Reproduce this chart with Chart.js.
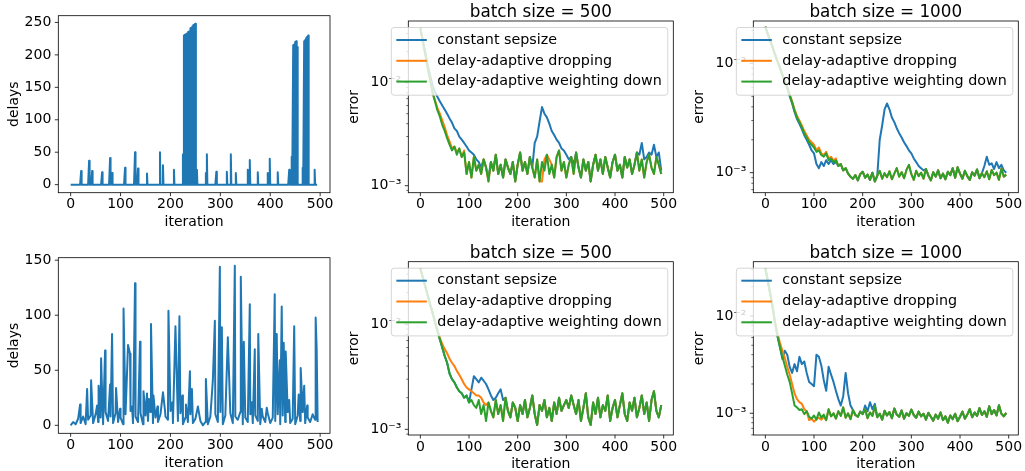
<!DOCTYPE html>
<html>
<head>
<meta charset="utf-8">
<title>delays and error</title>
<script src="https://cdn.jsdelivr.net/npm/chart.js@4.4.1/dist/chart.umd.min.js"></script>
<style>
html,body{margin:0;padding:0;background:#fff;}
#fig{position:relative;width:1025px;height:471px;overflow:hidden;background:#fff;}
#fig canvas{position:absolute;left:0;top:0;}
</style>
</head>
<body>
<div id="fig"></div>
<script>
// ---------------- data ----------------
const iterations = [0,5,10,15,20,25,30,35,40,45,50,55,60,65,70,75,80,85,90,95,100,105,110,115,120,125,130,135,140,145,150,155,160,165,170,175,180,185,190,195,200,205,210,215,220,225,230,235,240,245,250,255,260,265,270,275,280,285,290,295,300,305,310,315,320,325,330,335,340,345,350,355,360,365,370,375,380,385,390,395,400,405,410,415,420,425,430,435,440,445,450,455,460,465,470,475,480,485,490,495];
const xTickValues = [0,100,200,300,400,500];
const delayTicksTop = [0,50,100,150,200,250];
const delayTicksBottom = [0,50,100,150];
const errorTickValues = [1e-3,1e-2];
const legendLabels = ['constant sepsize','delay-adaptive dropping','delay-adaptive weighting down'];
const panelTitles = ['batch size = 500','batch size = 1000'];
const lastIteration = 495;

// top-left: delays are 0 except at these iterations
const spikeIterTop = [21,37,43,63,79,83,109,129,135,153,179,185,207,225,227,229,231,233,235,237,240,242,244,246,248,250,253,271,273,292,313,321,331,355,359,375,395,399,415,438,443,446,448,450,452,454,465,468,470,472,474,476,489];
const spikeDelayTop = [21,37,21,19,41,18,26,50,25,17,50,30,23,47,230,231,232,233,235,236,241,242,244,246,247,248,23,18,47,20,20,47,18,23,38,19,18,40,19,23,43,215,216,220,221,212,26,221,223,226,228,230,23];

// bottom-left: background delays (at `iterations`) plus spikes
const baseDelayBottom = [0,3,1,6,2,8,1,5,9,2, 10,3,7,1,12,4,8,2,11,3, 7,1,10,4,13,2,8,3,11,1, 9,4,12,2,7,3,10,1,8,5, 13,2,9,4,11,1,7,3,10,2, 6,1,4,0,3,1,8,2,10,3, 12,1,9,4,11,2,8,5,12,1, 7,3,10,2,9,4,1,8,3,11, 2,7,4,10,1,9,3,12,2,6, 1,9,4,12,2,7,3,10,5,3];
const spikeIterBottom = [19,33,41,53,56,61,69,79,83,91,99,106,115,119,123,129,139,146,153,157,161,166,174,185,189,196,204,210,218,224,231,239,243,255,271,285,289,299,303,315,329,341,347,359,363,369,376,383,393,409,413,419,423,427,431,438,448,457,461,468,474,491,493];
const spikeDelayBottom = [19,33,41,18,36,61,68,37,83,34,15,106,73,65,17,129,76,31,29,24,92,27,17,30,14,104,21,90,99,27,19,49,33,17,42,41,95,144,89,80,145,135,76,110,21,69,83,15,16,119,83,59,108,75,67,23,90,28,52,36,18,98,70];

// top row, batch 500
const errTop500Const = [3.4e-2,2.6e-2,2.0e-2,1.5e-2,1.18e-2,9.5e-3,8.2e-3,7.3e-3,6.6e-3,6.0e-3,
 5.5e-3,5.0e-3,4.5e-3,4.1e-3,3.6e-3,3.4e-3,3.0e-3,2.8e-3,2.6e-3,2.4e-3,
 2.2e-3,2.1e-3,2.0e-3,1.8e-3,1.7e-3,1.5e-3,1.8e-3,1.5e-3,1.2e-3,1.7e-3,
 1.4e-3,2.0e-3,1.3e-3,1.6e-3,1.2e-3,1.8e-3,1.5e-3,1.3e-3,1.7e-3,1.1e-3,
 1.6e-3,2.1e-3,1.4e-3,1.7e-3,1.3e-3,1.9e-3,1.5e-3,2.6e-3,3.0e-3,4.2e-3,
 5.8e-3,5.0e-3,4.6e-3,4.0e-3,3.4e-3,3.1e-3,2.8e-3,2.6e-3,2.3e-3,2.2e-3,
 2.0e-3,1.8e-3,1.9e-3,1.6e-3,2.1e-3,1.5e-3,1.2e-3,1.8e-3,1.4e-3,1.7e-3,
 1.1e-3,1.6e-3,2.0e-3,1.4e-3,1.8e-3,1.3e-3,1.9e-3,1.5e-3,1.2e-3,1.7e-3,
 2.0e-3,1.4e-3,1.6e-3,1.2e-3,1.9e-3,1.5e-3,1.8e-3,1.3e-3,1.6e-3,2.1e-3,
 2.0e-3,2.6e-3,1.8e-3,1.9e-3,2.1e-3,2.0e-3,2.5e-3,1.9e-3,2.1e-3,1.4e-3];
const errTop500Drop = [3.4e-2,2.5e-2,1.9e-2,1.4e-2,1.07e-2,8.1e-3,6.8e-3,5.7e-3,5.0e-3,4.3e-3,
 3.7e-3,3.1e-3,2.7e-3,2.3e-3,2.4e-3,2.1e-3,2.3e-3,1.9e-3,2.2e-3,1.3e-3,
 1.7e-3,1.2e-3,1.9e-3,1.4e-3,1.6e-3,1.3e-3,1.8e-3,1.5e-3,1.1e-3,1.7e-3,
 1.4e-3,2.0e-3,1.3e-3,1.6e-3,1.2e-3,1.8e-3,1.5e-3,1.3e-3,1.7e-3,1.1e-3,
 1.6e-3,2.1e-3,1.4e-3,1.7e-3,1.3e-3,1.9e-3,1.5e-3,1.2e-3,1.8e-3,1.1e-3,
 1.1e-3,1.8e-3,2.0e-3,1.8e-3,1.6e-3,1.2e-3,1.9e-3,2.2e-3,1.4e-3,1.7e-3,
 1.2e-3,1.6e-3,1.9e-3,1.3e-3,2.1e-3,1.5e-3,1.2e-3,1.8e-3,1.4e-3,1.7e-3,
 1.1e-3,1.6e-3,2.0e-3,1.4e-3,1.8e-3,1.3e-3,1.9e-3,1.5e-3,1.2e-3,1.7e-3,
 2.0e-3,1.4e-3,1.6e-3,1.2e-3,1.9e-3,1.5e-3,1.8e-3,1.3e-3,1.6e-3,2.1e-3,
 1.4e-3,1.8e-3,1.2e-3,1.7e-3,2.0e-3,1.5e-3,1.3e-3,1.9e-3,1.6e-3,1.3e-3];
const errTop500Weight = [3.4e-2,2.5e-2,1.9e-2,1.4e-2,1.07e-2,8.0e-3,6.6e-3,5.4e-3,4.7e-3,3.9e-3,
 3.4e-3,2.9e-3,2.5e-3,2.2e-3,2.4e-3,2.0e-3,2.3e-3,1.9e-3,2.1e-3,1.3e-3,
 1.7e-3,1.2e-3,1.9e-3,1.4e-3,1.6e-3,1.3e-3,1.8e-3,1.5e-3,1.1e-3,1.7e-3,
 1.4e-3,2.0e-3,1.3e-3,1.6e-3,1.2e-3,1.8e-3,1.5e-3,1.3e-3,1.7e-3,1.1e-3,
 1.6e-3,2.1e-3,1.4e-3,1.7e-3,1.3e-3,1.9e-3,1.5e-3,1.2e-3,1.8e-3,1.1e-3,
 1.7e-3,1.4e-3,2.0e-3,1.3e-3,1.6e-3,1.2e-3,1.9e-3,2.2e-3,1.4e-3,1.7e-3,
 1.2e-3,1.6e-3,1.9e-3,1.3e-3,2.1e-3,1.5e-3,1.2e-3,1.8e-3,1.4e-3,1.7e-3,
 1.1e-3,1.6e-3,2.0e-3,1.4e-3,1.8e-3,1.3e-3,1.9e-3,1.5e-3,1.2e-3,1.7e-3,
 2.0e-3,1.4e-3,1.6e-3,1.2e-3,1.9e-3,1.5e-3,1.8e-3,1.3e-3,1.6e-3,2.1e-3,
 1.4e-3,1.8e-3,1.2e-3,1.7e-3,2.0e-3,1.5e-3,1.3e-3,1.9e-3,1.6e-3,1.3e-3];

// top row, batch 1000
const errTop1000Const = [2.16e-2,1.86e-2,1.61e-2,1.40e-2,1.20e-2,1.04e-2,9.1e-3,7.9e-3,6.8e-3,6.0e-3,
 5.0e-3,4.3e-3,3.6e-3,3.1e-3,2.8e-3,2.5e-3,2.2e-3,2.0e-3,1.8e-3,1.6e-3,
 1.5e-3,1.2e-3,1.1e-3,1.25e-3,1.15e-3,1.3e-3,1.2e-3,1.3e-3,1.2e-3,1.25e-3,
 1.15e-3,1.2e-3,1.05e-3,1.1e-3,9.8e-4,9.2e-4,8.8e-4,9.5e-4,8.5e-4,9.7e-4,
 1.02e-3,9.0e-4,9.6e-4,8.6e-4,1.00e-3,8.3e-4,9.4e-4,2.0e-3,2.7e-3,3.8e-3,
 4.3e-3,3.8e-3,3.2e-3,2.9e-3,2.55e-3,2.3e-3,2.1e-3,1.9e-3,1.75e-3,1.6e-3,
 1.5e-3,1.35e-3,1.25e-3,1.15e-3,1.1e-3,1.05e-3,1.08e-3,9.4e-4,8.5e-4,1.01e-3,
 9.2e-4,1.05e-3,8.9e-4,9.8e-4,8.7e-4,1.02e-3,9.5e-4,1.10e-3,9.0e-4,1.12e-3,
 9.8e-4,8.8e-4,1.04e-3,9.3e-4,8.6e-4,1.01e-3,9.4e-4,1.07e-3,8.9e-4,9.9e-4,
 1.15e-3,1.4e-3,1.18e-3,1.22e-3,1.08e-3,1.25e-3,1.10e-3,1.18e-3,1.05e-3,1.00e-3];
const errTop1000Drop = [2.16e-2,1.86e-2,1.61e-2,1.40e-2,1.20e-2,1.04e-2,9.1e-3,7.9e-3,6.8e-3,6.0e-3,
 5.2e-3,4.5e-3,3.8e-3,3.3e-3,3.0e-3,2.7e-3,2.4e-3,2.2e-3,2.0e-3,1.9e-3,
 1.8e-3,1.6e-3,1.7e-3,1.5e-3,1.45e-3,1.55e-3,1.35e-3,1.4e-3,1.3e-3,1.35e-3,
 1.15e-3,1.2e-3,1.05e-3,1.1e-3,9.8e-4,9.2e-4,8.8e-4,9.5e-4,8.5e-4,9.7e-4,
 1.02e-3,9.0e-4,9.6e-4,8.6e-4,1.00e-3,8.3e-4,9.4e-4,1.04e-3,8.8e-4,9.9e-4,
 9.1e-4,1.03e-3,8.7e-4,9.8e-4,1.10e-3,9.2e-4,1.01e-3,8.9e-4,1.06e-3,1.18e-3,
 9.7e-4,8.6e-4,1.04e-3,9.3e-4,1.00e-3,8.8e-4,1.08e-3,9.4e-4,8.5e-4,1.01e-3,
 9.2e-4,1.05e-3,8.9e-4,9.8e-4,8.7e-4,1.02e-3,9.5e-4,1.10e-3,9.0e-4,1.12e-3,
 9.8e-4,8.8e-4,1.04e-3,9.3e-4,8.6e-4,1.01e-3,9.4e-4,1.07e-3,8.9e-4,9.9e-4,
 9.1e-4,1.03e-3,8.7e-4,1.06e-3,9.5e-4,1.00e-3,8.6e-4,1.09e-3,9.2e-4,9.6e-4];
const errTop1000Weight = [2.16e-2,1.86e-2,1.61e-2,1.40e-2,1.20e-2,1.04e-2,9.1e-3,7.9e-3,6.8e-3,6.0e-3,
 5.1e-3,4.4e-3,3.7e-3,3.2e-3,2.9e-3,2.6e-3,2.3e-3,2.1e-3,1.9e-3,1.8e-3,
 1.7e-3,1.55e-3,1.6e-3,1.45e-3,1.4e-3,1.5e-3,1.3e-3,1.35e-3,1.25e-3,1.3e-3,
 1.15e-3,1.2e-3,1.05e-3,1.1e-3,9.8e-4,9.2e-4,8.8e-4,9.5e-4,8.5e-4,9.7e-4,
 1.02e-3,9.0e-4,9.6e-4,8.6e-4,1.00e-3,8.3e-4,9.4e-4,1.04e-3,8.8e-4,9.9e-4,
 9.1e-4,1.03e-3,8.7e-4,9.8e-4,1.10e-3,9.2e-4,1.01e-3,8.9e-4,1.06e-3,1.18e-3,
 9.7e-4,8.6e-4,1.04e-3,9.3e-4,1.00e-3,8.8e-4,1.08e-3,9.4e-4,8.5e-4,1.01e-3,
 9.2e-4,1.05e-3,8.9e-4,9.8e-4,8.7e-4,1.02e-3,9.5e-4,1.10e-3,9.0e-4,1.12e-3,
 9.8e-4,8.8e-4,1.04e-3,9.3e-4,8.6e-4,1.01e-3,9.4e-4,1.07e-3,8.9e-4,9.9e-4,
 9.1e-4,1.03e-3,8.7e-4,1.06e-3,9.5e-4,1.00e-3,8.6e-4,1.09e-3,9.2e-4,9.6e-4];

// bottom row, batch 500
const errBot500Const = [3.4e-2,2.8e-2,2.3e-2,1.9e-2,1.55e-2,1.29e-2,1.05e-2,8.7e-3,7.2e-3,6.0e-3,
 5.0e-3,4.3e-3,3.4e-3,3.0e-3,2.8e-3,2.5e-3,2.3e-3,2.2e-3,2.0e-3,2.1e-3,
 1.8e-3,2.4e-3,3.2e-3,3.0e-3,2.8e-3,3.1e-3,2.9e-3,2.7e-3,2.4e-3,2.1e-3,
 1.9e-3,2.0e-3,2.2e-3,2.4e-3,1.9e-3,2.0e-3,1.5e-3,1.3e-3,1.8e-3,1.6e-3,
 1.2e-3,1.7e-3,1.4e-3,1.9e-3,1.3e-3,1.6e-3,2.1e-3,1.4e-3,1.1e-3,1.7e-3,
 1.5e-3,1.9e-3,1.3e-3,1.6e-3,1.2e-3,1.8e-3,1.4e-3,2.0e-3,1.5e-3,1.7e-3,
 1.9e-3,1.6e-3,2.1e-3,1.7e-3,1.4e-3,1.9e-3,1.2e-3,1.6e-3,2.2e-3,1.3e-3,
 1.1e-3,1.8e-3,1.4e-3,2.0e-3,1.3e-3,1.7e-3,1.5e-3,2.1e-3,1.2e-3,1.6e-3,
 1.9e-3,1.3e-3,1.7e-3,2.2e-3,1.4e-3,1.2e-3,1.8e-3,1.5e-3,2.0e-3,1.3e-3,
 1.6e-3,2.1e-3,1.4e-3,1.8e-3,1.2e-3,1.9e-3,2.3e-3,1.5e-3,1.3e-3,1.7e-3];
const errBot500Drop = [3.4e-2,2.8e-2,2.3e-2,1.9e-2,1.55e-2,1.29e-2,1.06e-2,8.9e-3,7.4e-3,6.5e-3,
 5.8e-3,5.3e-3,4.7e-3,4.3e-3,4.0e-3,3.6e-3,3.3e-3,3.0e-3,2.7e-3,2.5e-3,
 2.4e-3,2.3e-3,2.2e-3,2.1e-3,2.1e-3,2.0e-3,1.8e-3,1.7e-3,1.8e-3,1.5e-3,
 1.3e-3,1.9e-3,1.4e-3,1.7e-3,1.2e-3,2.0e-3,1.5e-3,1.3e-3,1.8e-3,1.6e-3,
 1.2e-3,1.7e-3,1.4e-3,1.9e-3,1.3e-3,1.6e-3,2.1e-3,1.4e-3,1.1e-3,1.7e-3,
 1.5e-3,1.9e-3,1.3e-3,1.6e-3,1.2e-3,1.8e-3,1.4e-3,2.0e-3,1.5e-3,1.7e-3,
 1.9e-3,1.6e-3,2.1e-3,1.7e-3,1.4e-3,1.9e-3,1.2e-3,1.6e-3,2.2e-3,1.3e-3,
 1.1e-3,1.8e-3,1.4e-3,2.0e-3,1.3e-3,1.7e-3,1.5e-3,2.1e-3,1.2e-3,1.6e-3,
 1.9e-3,1.3e-3,1.7e-3,2.2e-3,1.4e-3,1.2e-3,1.8e-3,1.5e-3,2.0e-3,1.3e-3,
 1.6e-3,2.1e-3,1.4e-3,1.8e-3,1.2e-3,1.9e-3,2.3e-3,1.5e-3,1.3e-3,1.7e-3];
const errBot500Weight = [3.4e-2,2.8e-2,2.3e-2,1.9e-2,1.55e-2,1.29e-2,1.05e-2,8.7e-3,7.2e-3,6.0e-3,
 5.0e-3,4.3e-3,3.4e-3,3.0e-3,2.8e-3,2.5e-3,2.3e-3,2.2e-3,2.0e-3,2.1e-3,
 1.8e-3,1.9e-3,1.7e-3,1.6e-3,1.9e-3,1.4e-3,1.7e-3,1.2e-3,1.8e-3,1.5e-3,
 1.3e-3,1.9e-3,1.4e-3,1.7e-3,1.2e-3,2.0e-3,1.5e-3,1.3e-3,1.8e-3,1.6e-3,
 1.2e-3,1.7e-3,1.4e-3,1.9e-3,1.3e-3,1.6e-3,2.1e-3,1.4e-3,1.1e-3,1.7e-3,
 1.5e-3,1.9e-3,1.3e-3,1.6e-3,1.2e-3,1.8e-3,1.4e-3,2.0e-3,1.5e-3,1.7e-3,
 1.9e-3,1.6e-3,2.1e-3,1.7e-3,1.4e-3,1.9e-3,1.2e-3,1.6e-3,2.2e-3,1.3e-3,
 1.1e-3,1.8e-3,1.4e-3,2.0e-3,1.3e-3,1.7e-3,1.5e-3,2.1e-3,1.2e-3,1.6e-3,
 1.9e-3,1.3e-3,1.7e-3,2.2e-3,1.4e-3,1.2e-3,1.8e-3,1.5e-3,2.0e-3,1.3e-3,
 1.6e-3,2.1e-3,1.4e-3,1.8e-3,1.2e-3,1.9e-3,2.3e-3,1.5e-3,1.3e-3,1.7e-3];

// bottom row, batch 1000
const errBot1000Const = [3.1e-2,2.3e-2,1.7e-2,1.22e-2,8.5e-3,6.2e-3,4.8e-3,3.6e-3,4.4e-3,4.0e-3,
 3.0e-3,2.6e-3,3.2e-3,2.7e-3,3.8e-3,3.2e-3,3.4e-3,2.6e-3,2.1e-3,2.0e-3,
 1.9e-3,4.0e-3,3.8e-3,3.1e-3,2.2e-3,1.7e-3,3.0e-3,2.5e-3,2.1e-3,1.7e-3,
 1.4e-3,1.2e-3,1.5e-3,2.6e-3,1.6e-3,1.2e-3,1.08e-3,9.6e-4,9.2e-4,1.04e-3,
 9.8e-4,1.2e-3,1.05e-3,1.3e-3,1.10e-3,1.25e-3,9.1e-4,9.9e-4,8.6e-4,1.06e-3,
 9.5e-4,1.03e-3,8.9e-4,1.12e-3,9.7e-4,9.2e-4,1.07e-3,8.8e-4,1.00e-3,9.4e-4,
 1.09e-3,9.6e-4,9.0e-4,1.04e-3,9.3e-4,9.9e-4,8.6e-4,1.01e-3,9.2e-4,8.4e-4,
 9.7e-4,8.8e-4,1.02e-3,8.5e-4,9.3e-4,8.0e-4,9.5e-4,8.7e-4,9.9e-4,8.3e-4,
 9.2e-4,1.04e-3,8.8e-4,9.7e-4,1.10e-3,9.1e-4,1.02e-3,9.4e-4,1.13e-3,9.6e-4,
 1.05e-3,9.2e-4,1.18e-3,9.8e-4,1.08e-3,9.5e-4,1.21e-3,9.9e-4,9.3e-4,1.01e-3];
const errBot1000Drop = [3.1e-2,2.3e-2,1.7e-2,1.22e-2,8.7e-3,6.6e-3,5.3e-3,4.4e-3,3.7e-3,3.0e-3,
 2.5e-3,2.0e-3,1.6e-3,1.4e-3,1.3e-3,1.25e-3,1.1e-3,1.05e-3,8.5e-4,8.8e-4,
 8.2e-4,8.7e-4,9.0e-4,8.6e-4,9.2e-4,8.5e-4,1.10e-3,9.3e-4,1.00e-3,8.8e-4,
 1.05e-3,9.4e-4,1.15e-3,9.0e-4,1.00e-3,8.7e-4,1.08e-3,9.6e-4,9.2e-4,1.04e-3,
 9.8e-4,1.10e-3,8.9e-4,1.02e-3,9.4e-4,1.18e-3,9.1e-4,9.9e-4,8.6e-4,1.06e-3,
 9.5e-4,1.03e-3,8.9e-4,1.12e-3,9.7e-4,9.2e-4,1.07e-3,8.8e-4,1.00e-3,9.4e-4,
 1.09e-3,9.6e-4,9.0e-4,1.04e-3,9.3e-4,9.9e-4,8.6e-4,1.01e-3,9.2e-4,8.4e-4,
 9.7e-4,8.8e-4,1.02e-3,8.5e-4,9.3e-4,8.0e-4,9.5e-4,8.7e-4,9.9e-4,8.3e-4,
 9.2e-4,1.04e-3,8.8e-4,9.7e-4,1.10e-3,9.1e-4,1.02e-3,9.4e-4,1.13e-3,9.6e-4,
 1.05e-3,9.2e-4,1.18e-3,9.8e-4,1.08e-3,9.5e-4,1.21e-3,9.9e-4,9.3e-4,1.01e-3];
const errBot1000Weight = [3.1e-2,2.3e-2,1.7e-2,1.22e-2,8.5e-3,6.2e-3,4.8e-3,3.8e-3,3.1e-3,2.5e-3,
 2.1e-3,1.6e-3,1.2e-3,1.15e-3,1.08e-3,1.1e-3,9.8e-4,1.05e-3,9.2e-4,8.8e-4,
 9.5e-4,8.6e-4,1.02e-3,9.0e-4,9.7e-4,8.5e-4,1.10e-3,9.3e-4,1.00e-3,8.8e-4,
 1.05e-3,9.4e-4,1.15e-3,9.0e-4,1.00e-3,8.7e-4,1.08e-3,9.6e-4,9.2e-4,1.04e-3,
 9.8e-4,1.10e-3,8.9e-4,1.02e-3,9.4e-4,1.18e-3,9.1e-4,9.9e-4,8.6e-4,1.06e-3,
 9.5e-4,1.03e-3,8.9e-4,1.12e-3,9.7e-4,9.2e-4,1.07e-3,8.8e-4,1.00e-3,9.4e-4,
 1.09e-3,9.6e-4,9.0e-4,1.04e-3,9.3e-4,9.9e-4,8.6e-4,1.01e-3,9.2e-4,8.4e-4,
 9.7e-4,8.8e-4,1.02e-3,8.5e-4,9.3e-4,8.0e-4,9.5e-4,8.7e-4,9.9e-4,8.3e-4,
 9.2e-4,1.04e-3,8.8e-4,9.7e-4,1.10e-3,9.1e-4,1.02e-3,9.4e-4,1.13e-3,9.6e-4,
 1.05e-3,9.2e-4,1.18e-3,9.8e-4,1.08e-3,9.5e-4,1.21e-3,9.9e-4,9.3e-4,1.01e-3];

// ---------------- styling ----------------
const FONT = "'DejaVu Sans', sans-serif";
const C_BLUE = '#1f77b4', C_ORANGE = '#ff7f0e', C_GREEN = '#2ca02c';
const W = 1025, H = 471, XH = 40;
const lineStyle = {borderWidth: 2, pointRadius: 0, pointHoverRadius: 0, fill: false, tension: 0, borderJoinStyle: 'round', borderCapStyle: 'butt'};

function topDelayPoints() {
  const vals = new Array(lastIteration + 1).fill(0);
  spikeIterTop.forEach((it, k) => { vals[it] = spikeDelayTop[k]; });
  return vals.map((v, i) => ({x: i, y: v}));
}
function bottomDelayPoints() {
  const m = new Map();
  iterations.forEach((it, k) => m.set(it, baseDelayBottom[k]));
  spikeIterBottom.forEach((it, k) => m.set(it, spikeDelayBottom[k]));
  return [...m.entries()].sort((a, b) => a[0] - b[0]).map(([x, y]) => ({x, y}));
}
function errSets(c, d, w) {
  const pts = arr => iterations.map((it, i) => ({x: it, y: arr[i]}));
  return [
    Object.assign({label: legendLabels[0], data: pts(c), borderColor: C_BLUE, order: 3}, lineStyle),
    Object.assign({label: legendLabels[1], data: pts(d), borderColor: C_ORANGE, order: 2}, lineStyle),
    Object.assign({label: legendLabels[2], data: pts(w), borderColor: C_GREEN, order: 1}, lineStyle)
  ];
}
const SUP = {'-': '\u207B', '0': '\u2070', '1': '\u00B9', '2': '\u00B2', '3': '\u00B3'};
function logLabel(v) {
  const e = String(Math.round(Math.log10(v)));
  return '10' + e.split('').map(ch => SUP[ch]).join('');
}
function logMinor(min, max) {
  const out = [];
  for (let n = Math.floor(Math.log10(min)); n <= Math.ceil(Math.log10(max)); n++) {
    for (let k = 2; k <= 9; k++) { const v = k * Math.pow(10, n); if (v >= min && v <= max) out.push(v); }
  }
  return out;
}
function roundRectPath(ctx, x, y, w, h, r) {
  ctx.beginPath();
  ctx.moveTo(x + r, y);
  ctx.lineTo(x + w - r, y); ctx.arcTo(x + w, y, x + w, y + r, r);
  ctx.lineTo(x + w, y + h - r); ctx.arcTo(x + w, y + h, x + w - r, y + h, r);
  ctx.lineTo(x + r, y + h); ctx.arcTo(x, y + h, x, y + h - r, r);
  ctx.lineTo(x, y + r); ctx.arcTo(x, y, x + r, y, r);
  ctx.closePath();
}

function makeChart(cfg) {
  const cv = document.createElement('canvas');
  cv.width = W; cv.height = H; cv.style.width = W + 'px'; cv.style.height = H + 'px';
  document.getElementById('fig').appendChild(cv);
  const b = cfg.box;
  const minor = cfg.yType === 'logarithmic' ? logMinor(cfg.yMin, cfg.yMax) : [];
  const deco = {
    id: 'deco',
    afterDatasetsDraw(chart) {
      const {ctx, chartArea: a} = chart;
      const xs = chart.scales.x, ys = chart.scales.y;
      ctx.save();
      ctx.strokeStyle = '#000';
      ctx.lineWidth = 0.8;
      ctx.beginPath();
      xTickValues.forEach(v => { const p = xs.getPixelForValue(v); ctx.moveTo(p, a.bottom); ctx.lineTo(p, a.bottom + 3.5); });
      cfg.yTicks.forEach(v => { const p = ys.getPixelForValue(v); ctx.moveTo(a.left, p); ctx.lineTo(a.left - 3.5, p); });
      ctx.stroke();
      if (minor.length) {
        ctx.lineWidth = 0.6;
        ctx.beginPath();
        minor.forEach(v => { const p = ys.getPixelForValue(v); ctx.moveTo(a.left, p); ctx.lineTo(a.left - 2, p); });
        ctx.stroke();
      }
      ctx.lineWidth = 0.8;
      ctx.strokeRect(a.left, a.top, a.right - a.left, a.bottom - a.top);
      ctx.restore();
    },
    afterDraw(chart) {
      const {ctx, chartArea: a} = chart;
      ctx.save();
      if (cfg.title) {
        ctx.font = '16.8px ' + FONT;
        ctx.fillStyle = '#000';
        ctx.textAlign = 'center';
        ctx.textBaseline = 'alphabetic';
        ctx.fillText(cfg.title, (a.left + a.right) / 2, a.top - 4);
      }
      if (cfg.legend) {
        ctx.font = '14.3px ' + FONT;
        const tw = Math.max(...legendLabels.map(l => ctx.measureText(l).width));
        const padL = 5, handle = 30.5, gap = 10.5, padR = 6;
        const w = padL + handle + gap + tw + padR, h = 67.7;
        const r = a.right - 5.5, t = a.top + 6.5, l = r - w;
        roundRectPath(ctx, l, t, w, h, 2.8);
        ctx.fillStyle = 'rgba(255,255,255,0.8)';
        ctx.fill();
        ctx.strokeStyle = 'rgba(204,204,204,0.8)';
        ctx.lineWidth = 1;
        ctx.stroke();
        const colors = [C_BLUE, C_ORANGE, C_GREEN];
        legendLabels.forEach((lab, i) => {
          const yy = t + 12.5 + i * 20.8;
          ctx.strokeStyle = colors[i];
          ctx.lineWidth = 2;
          ctx.beginPath(); ctx.moveTo(l + padL, yy); ctx.lineTo(l + padL + handle, yy); ctx.stroke();
          ctx.fillStyle = '#000';
          ctx.textAlign = 'left';
          ctx.textBaseline = 'middle';
          ctx.fillText(lab, l + padL + handle + gap, yy);
        });
      }
      ctx.restore();
    }
  };
  const yTicksOpt = {font: {family: FONT, size: 14}, color: '#000', padding: 7, autoSkip: false};
  if (cfg.yType === 'logarithmic') yTicksOpt.callback = v => logLabel(v);
  const zeroPad = s => { s.paddingLeft = 0; s.paddingRight = 0; s.paddingTop = 0; s.paddingBottom = 0; };
  return new Chart(cv.getContext('2d'), {
    type: 'line',
    data: {datasets: cfg.datasets},
    options: {
      responsive: false, animation: false, events: [],
      layout: {padding: {left: b.l - cfg.yw, top: b.t, right: W - b.r, bottom: H - b.b - XH}},
      plugins: {legend: {display: false}, tooltip: {enabled: false}, title: {display: false}},
      scales: {
        x: {
          type: 'linear', min: -24.75, max: 519.75, bounds: 'data',
          grid: {display: false, drawTicks: false}, border: {display: false},
          ticks: {font: {family: FONT, size: 14}, color: '#000', padding: 3.7, maxRotation: 0, minRotation: 0, autoSkip: false},
          afterBuildTicks: s => { s.ticks = xTickValues.map(v => ({value: v})); },
          afterFit: s => { s.height = XH; zeroPad(s); },
          title: {display: true, text: 'iteration', color: '#000', font: {family: FONT, size: 14}, padding: {top: 0, bottom: 2}}
        },
        y: {
          type: cfg.yType, min: cfg.yMin, max: cfg.yMax, bounds: 'data',
          grid: {display: false, drawTicks: false}, border: {display: false},
          ticks: yTicksOpt,
          afterBuildTicks: s => { s.ticks = cfg.yTicks.map(v => ({value: v})); },
          afterFit: s => { s.width = cfg.yw; zeroPad(s); },
          title: {display: true, text: cfg.yTitle, color: '#000', font: {family: FONT, size: 14}, padding: {top: 0, bottom: 0}}
        }
      }
    },
    plugins: [deco]
  });
}

// ---------------- panels ----------------
makeChart({box: {l: 58.3, t: 15.7, r: 330, b: 192.7}, yw: 52.6, yType: 'linear', yMin: -12.4, yMax: 260.4,
  yTicks: delayTicksTop, yTitle: 'delays',
  datasets: [Object.assign({label: 'delays', data: topDelayPoints(), borderColor: C_BLUE}, lineStyle)]});
makeChart({box: {l: 408.3, t: 21, r: 673.3, b: 192.7}, yw: 62.2, yType: 'logarithmic', yMin: 8.55e-4, yMax: 3.97e-2,
  yTicks: errorTickValues, yTitle: 'error', title: panelTitles[0], legend: true,
  datasets: errSets(errTop500Const, errTop500Drop, errTop500Weight)});
makeChart({box: {l: 753.3, t: 21, r: 1018.3, b: 192.7}, yw: 62, yType: 'logarithmic', yMin: 6.56e-4, yMax: 2.44e-2,
  yTicks: errorTickValues, yTitle: 'error', title: panelTitles[1], legend: true,
  datasets: errSets(errTop1000Const, errTop1000Drop, errTop1000Weight)});
makeChart({box: {l: 58.3, t: 257.7, r: 330, b: 433.3}, yw: 52.6, yType: 'linear', yMin: -7.25, yMax: 152.25,
  yTicks: delayTicksBottom, yTitle: 'delays',
  datasets: [Object.assign({label: 'delays', data: bottomDelayPoints(), borderColor: C_BLUE}, lineStyle)]});
makeChart({box: {l: 408.3, t: 261.7, r: 673.3, b: 435}, yw: 62.2, yType: 'logarithmic', yMin: 8.83e-4, yMax: 3.94e-2,
  yTicks: errorTickValues, yTitle: 'error', title: panelTitles[0], legend: true,
  datasets: errSets(errBot500Const, errBot500Drop, errBot500Weight)});
makeChart({box: {l: 753.3, t: 261.7, r: 1018.3, b: 435}, yw: 62, yType: 'logarithmic', yMin: 5.98e-4, yMax: 3.61e-2,
  yTicks: errorTickValues, yTitle: 'error', title: panelTitles[1], legend: true,
  datasets: errSets(errBot1000Const, errBot1000Drop, errBot1000Weight)});
</script>
</body>
</html>
